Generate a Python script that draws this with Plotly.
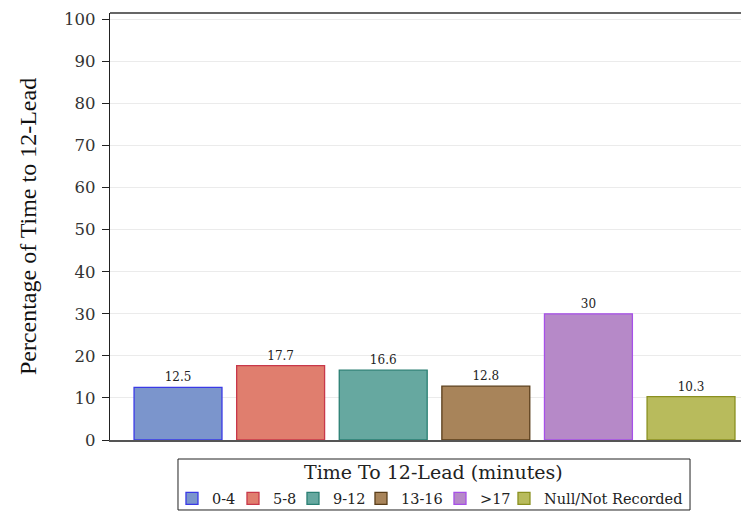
import plotly.graph_objects as go

categories = ["0-4", "5-8", "9-12", "13-16", ">17", "Null/Not Recorded"]
values = [12.5, 17.7, 16.6, 12.8, 30, 10.3]
fill_colors = ["#7b95cc", "#e07e6e", "#66a8a0", "#a8845a", "#b689c8", "#b8bb5c"]
line_colors = ["#3a3ae6", "#c8384a", "#2a7f73", "#5a3e1a", "#a650e8", "#8a9020"]
y_ticks = [0, 10, 20, 30, 40, 50, 60, 70, 80, 90, 100]
legend_title = "Time To 12-Lead (minutes)"

# legend entry text widths (px), to match the spacing of the reference legend
LEGEND_ENTRY_WIDTHS = [16, 15, 23, 34, 19, 142]

SERIF = "DejaVu Serif"

fig = go.Figure()
for cat, val, fc, lc, lw in zip(categories, values, fill_colors, line_colors, LEGEND_ENTRY_WIDTHS):
    fig.add_trace(go.Bar(
        x=[cat], y=[val], name=cat,
        marker=dict(color=fc, line=dict(color=lc, width=1.3)),
        width=0.857,
        texttemplate="%{y}", textposition="outside",
        textfont=dict(family=SERIF, size=12, color="#222"),
        cliponaxis=False,
        legendwidth=lw,
    ))

# the page body has an 8px default margin, so the figure is 8px smaller
fig.update_layout(
    width=741, height=504,
    margin=dict(l=102, r=0, t=5, b=72, autoexpand=False),
    paper_bgcolor="white", plot_bgcolor="white",
    barmode="overlay",
    showlegend=True,
    legend=dict(
        orientation="h",
        xref="container", yref="container",
        x=0.2213, xanchor="left",
        y=0.0268, yanchor="middle",
        borderwidth=0,
        bgcolor="rgba(0,0,0,0)",
        font=dict(family=SERIF, size=14.5, color="#222"),
        itemwidth=30,
        tracegroupgap=0,
        traceorder="normal",
    ),
    xaxis=dict(
        type="category", categoryorder="array", categoryarray=categories,
        range=[-0.663, 5.565],
        showticklabels=False, ticks="",
        showgrid=False, zeroline=False,
        showline=True, linecolor="#555", linewidth=1.5,
    ),
    yaxis=dict(
        range=[0, 101.5],
        tickvals=y_ticks,
        ticks="outside", ticklen=7, tickcolor="#222", tickwidth=1,
        ticklabelstandoff=3,
        tickfont=dict(family=SERIF, size=16.5, color="#333"),
        showgrid=True, gridcolor="#ebebeb", gridwidth=1,
        zeroline=False,
        showline=True, linecolor="#222", linewidth=1.2,
        automargin=False,
        title=dict(text="Percentage of Time to 12-Lead",
                   font=dict(family="Liberation Serif", size=24, color="#111"),
                   standoff=20),
    ),
    shapes=[
        dict(type="line", xref="paper", yref="paper", x0=0, x1=1, y0=1, y1=1,
             line=dict(color="#333", width=1.5)),
        dict(type="rect", xref="paper", yref="paper",
             x0=0.1064, x1=0.9077, y0=-0.0445, y1=-0.1639,
             line=dict(color="#222", width=1), fillcolor="rgba(0,0,0,0)", layer="below"),
    ],
    annotations=[
        dict(text=legend_title, xref="paper", yref="paper", x=0.507, y=-0.0749,
             xanchor="center", yanchor="middle", showarrow=False,
             font=dict(family=SERIF, size=19, color="#222")),
    ],
)

fig.write_html("out.html")
